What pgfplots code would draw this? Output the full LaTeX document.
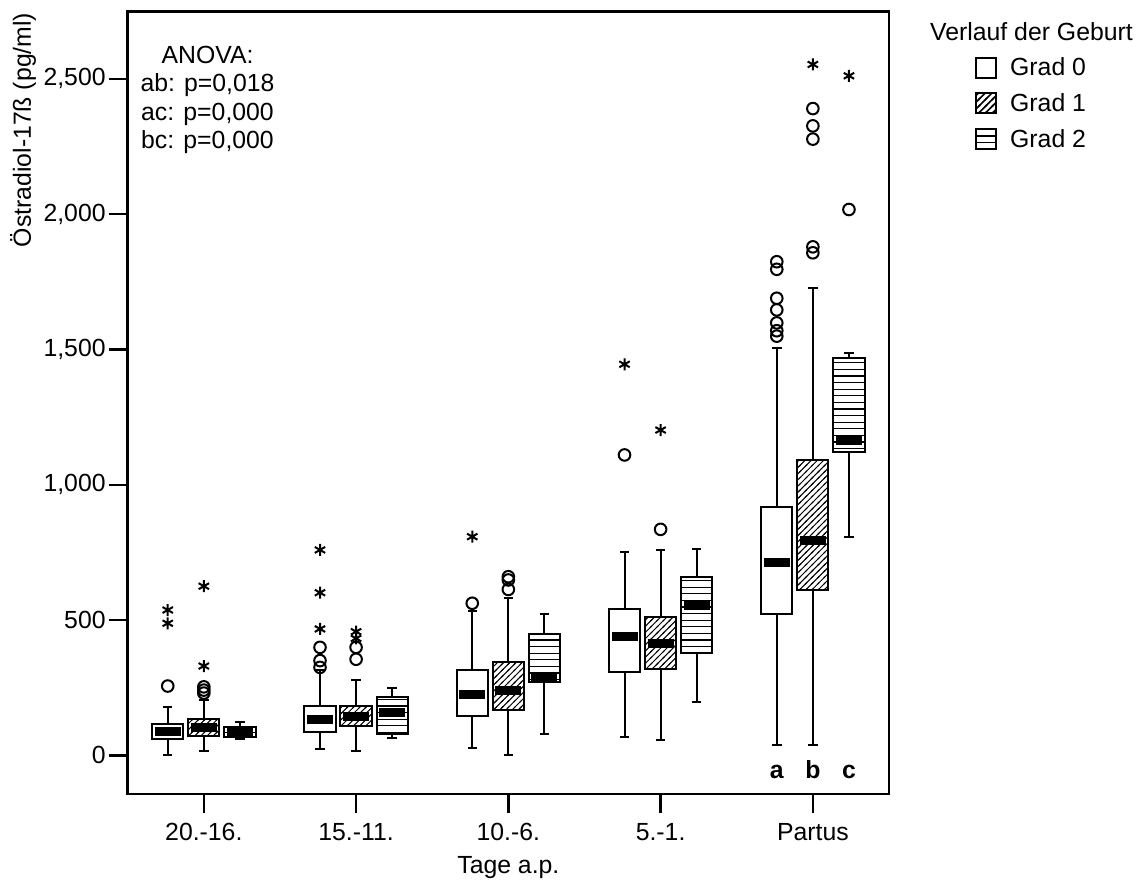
\documentclass[border=0pt]{standalone}
\usepackage{fontspec}
\setmainfont{Liberation Sans}
\usepackage{pgfplots}
\pgfplotsset{compat=1.18}
\usepgfplotslibrary{statistics}
\usetikzlibrary{patterns,calc}

% hatch patterns like SPSS
\pgfdeclarepatternformonly{diaglines}{\pgfqpoint{-1pt}{-1pt}}{\pgfqpoint{4.1pt}{4.1pt}}{\pgfqpoint{3.1pt}{3.1pt}}{%
  \pgfsetlinewidth{0.5pt}%
  \pgfpathmoveto{\pgfqpoint{-0.5pt}{-0.5pt}}\pgfpathlineto{\pgfqpoint{3.6pt}{3.6pt}}%
  \pgfusepath{stroke}}
\pgfdeclarepatternformonly{diaglegend}{\pgfqpoint{-1pt}{-1pt}}{\pgfqpoint{4.4pt}{4.4pt}}{\pgfqpoint{3.4pt}{3.4pt}}{%
  \pgfsetlinewidth{0.8pt}%
  \pgfpathmoveto{\pgfqpoint{-0.5pt}{-0.5pt}}\pgfpathlineto{\pgfqpoint{3.9pt}{3.9pt}}%
  \pgfusepath{stroke}}
\pgfdeclarepatternformonly{horlines}{\pgfqpoint{-1pt}{0pt}}{\pgfqpoint{4pt}{3.3pt}}{\pgfqpoint{3pt}{3.3pt}}{%
  \pgfsetlinewidth{0.6pt}%
  \pgfpathmoveto{\pgfqpoint{-1pt}{1.65pt}}\pgfpathlineto{\pgfqpoint{4pt}{1.65pt}}%
  \pgfusepath{stroke}}

\pgfplotsset{
  spss box/.style={
    black, line width=1pt,
    boxplot/draw direction=y,
    boxplot/box extend=0.205,
    boxplot/whisker extend=0.062,
    boxplot/every median/.style={line width=4.5pt, shorten <=1.3pt, shorten >=1.3pt},
  },
  grad0/.style={spss box, boxplot/every box/.style={fill=white}},
  grad1/.style={spss box, boxplot/every box/.style={fill=white, postaction={pattern=diaglines}}},
  grad2/.style={spss box, boxplot/every box/.style={fill=white, postaction={pattern=horlines}}},
  circ/.style={only marks, mark=o, mark size=2.9pt, line width=1pt, black},
  extreme/.style={only marks, mark=asterisk, mark size=3pt, line width=1pt, black},
}

\begin{document}
\fontsize{12.4}{15}\selectfont
\begin{tikzpicture}
\useasboundingbox (-63.85pt,-43.35pt) rectangle (507.15pt,397.15pt);
\begin{axis}[
    name=ax, at={(0,0)}, anchor=south west,
    scale only axis, width=380.65pt, height=391.3pt,
    xmin=-0.5, xmax=4.5, ymin=-144, ymax=2748,
    clip=false,
    axis line style={line width=1.2pt},
    xtick={0,1,2,3,4},
    xticklabels={20.-16., 15.-11., 10.-6., 5.-1., Partus},
    ytick={0,500,1000,1500,2000,2500},
    xtick pos=bottom, ytick pos=left,
    tick align=outside, major tick length=9.5pt,
    tick style={line width=1.2pt, black},
    scaled y ticks=false,
    /pgf/number format/assume math mode=true,
    /pgf/number format/1000 sep={,},
    yticklabel style={inner sep=0pt, xshift=-1.35pt},
    xticklabel style={anchor=base, inner sep=0pt, yshift=-13.85pt},
]
% 20.-16.
\addplot[grad0, boxplot prepared={draw position=-0.237, lower whisker=0, lower quartile=59, median=87, upper quartile=115, upper whisker=177}] coordinates {};
\addplot[grad1, boxplot prepared={draw position=0, lower whisker=17, lower quartile=71, median=102, upper quartile=133, upper whisker=204}] coordinates {};
\addplot[grad2, boxplot prepared={draw position=0.237, lower whisker=59, lower quartile=67, median=84, upper quartile=103, upper whisker=124}] coordinates {};
% 15.-11.
\addplot[grad0, boxplot prepared={draw position=0.763, lower whisker=22, lower quartile=87, median=133, upper quartile=183, upper whisker=315}] coordinates {};
\addplot[grad1, boxplot prepared={draw position=1, lower whisker=15, lower quartile=108, median=143, upper quartile=183, upper whisker=278}] coordinates {};
\addplot[grad2, boxplot prepared={draw position=1.237, lower whisker=65, lower quartile=79, median=157, upper quartile=217, upper whisker=248}] coordinates {};
% 10.-6.
\addplot[grad0, boxplot prepared={draw position=1.763, lower whisker=27, lower quartile=146, median=225, upper quartile=314, upper whisker=533}] coordinates {};
\addplot[grad1, boxplot prepared={draw position=2, lower whisker=0, lower quartile=167, median=241, upper quartile=344, upper whisker=582}] coordinates {};
\addplot[grad2, boxplot prepared={draw position=2.237, lower whisker=80, lower quartile=272, median=285, upper quartile=447, upper whisker=521}] coordinates {};
% 5.-1.
\addplot[grad0, boxplot prepared={draw position=2.763, lower whisker=69, lower quartile=309, median=440, upper quartile=541, upper whisker=750}] coordinates {};
\addplot[grad1, boxplot prepared={draw position=3, lower whisker=55, lower quartile=320, median=414, upper quartile=511, upper whisker=757}] coordinates {};
\addplot[grad2, boxplot prepared={draw position=3.237, lower whisker=197, lower quartile=377, median=554, upper quartile=659, upper whisker=763}] coordinates {};
% Partus
\addplot[grad0, boxplot prepared={draw position=3.763, lower whisker=38, lower quartile=524, median=712, upper quartile=918, upper whisker=1504}] coordinates {};
\addplot[grad1, boxplot prepared={draw position=4, lower whisker=38, lower quartile=611, median=792, upper quartile=1091, upper whisker=1726}] coordinates {};
\addplot[grad2, boxplot prepared={draw position=4.237, lower whisker=806, lower quartile=1122, median=1165, upper quartile=1467, upper whisker=1488}] coordinates {};

% outliers (circles) and extremes (stars)
\addplot[circ] coordinates {
  (-0.237,256) (0,253) (0,241) (0,230)
  (0.763,399) (0.763,350) (0.763,325) (1,399) (1,355)
  (1.763,562) (2,660) (2,648) (2,613)
  (2.763,1110) (3,835)
  (3.763,1824) (3.763,1796) (3.763,1689) (3.763,1646) (3.763,1598) (3.763,1569) (3.763,1549)
  (4,2390) (4,2326) (4,2277) (4,1879) (4,1857)
  (4.237,2017)
};
\addplot[extreme] coordinates {
  (-0.237,537) (-0.237,488) (0,625) (0,330)
  (0.763,759) (0.763,601) (0.763,467) (1,457) (1,432)
  (1.763,808)
  (2.763,1445) (3,1202)
  (4,2553) (4.237,2511)
};

\node[anchor=base, inner sep=0pt, font=\bfseries] at (axis cs:3.763,-85) {a};
\node[anchor=base, inner sep=0pt, font=\bfseries] at (axis cs:4,-85) {b};
\node[anchor=base, inner sep=0pt, font=\bfseries] at (axis cs:4.237,-85) {c};
\end{axis}

% axis titles
\node[rotate=90, anchor=base, inner sep=0pt] at (-48.35pt,332.15pt) {Östradiol-17ß (pg/ml)};
\node[anchor=base, inner sep=0pt] at ($(ax.south)+(0,-39.85pt)$) {Tage a.p.};

% ANOVA note
\node[anchor=base, inner sep=0pt] at ($(ax.north west)+(39.9pt,-25.8pt)$) {ANOVA:};
\node[anchor=base, inner sep=0pt] at ($(ax.north west)+(39.9pt,-40pt)$) {ab: p=0,018};
\node[anchor=base, inner sep=0pt] at ($(ax.north west)+(39.9pt,-54.5pt)$) {ac: p=0,000};
\node[anchor=base, inner sep=0pt] at ($(ax.north west)+(39.9pt,-68.3pt)$) {bc: p=0,000};

% legend
\node[anchor=base, inner sep=0pt] at ($(ax.north east)+(71.25pt,-14.5pt)$) {Verlauf der Geburt};
\draw[line width=1pt, fill=white] ($(ax.north east)+(43.5pt,-23.3pt)$) rectangle ++(10pt,-10pt);
\draw[line width=1pt, fill=white, postaction={pattern=diaglegend}]
  ($(ax.north east)+(43.5pt,-40.55pt)$) rectangle ++(10pt,-10pt);
\draw[line width=1pt, fill=white] ($(ax.north east)+(43.5pt,-58.75pt)$) rectangle ++(10pt,-10pt);
\draw[line width=0.8pt] ($(ax.north east)+(43.5pt,-62.08pt)$) -- ++(10pt,0);
\draw[line width=0.8pt] ($(ax.north east)+(43.5pt,-65.42pt)$) -- ++(10pt,0);
\node[anchor=base west, inner sep=0pt] at ($(ax.north east)+(60.4pt,-32.15pt)$) {Grad 0};
\node[anchor=base west, inner sep=0pt] at ($(ax.north east)+(60.4pt,-50pt)$) {Grad 1};
\node[anchor=base west, inner sep=0pt] at ($(ax.north east)+(60.4pt,-68pt)$) {Grad 2};
\end{tikzpicture}
\end{document}
